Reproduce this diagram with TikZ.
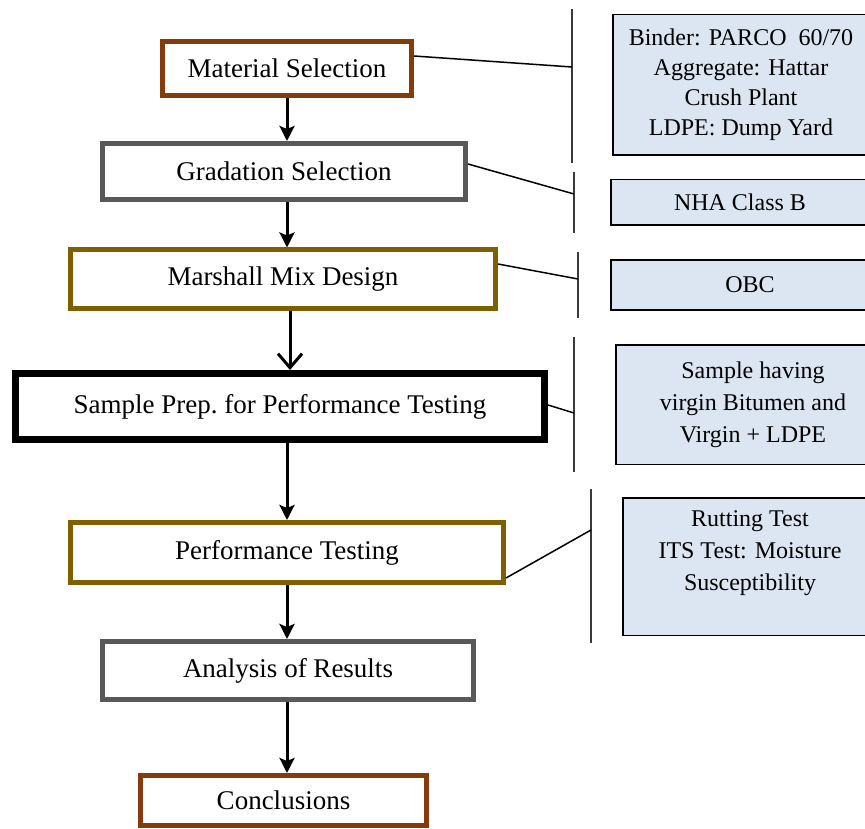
\documentclass[tikz,border=0pt]{standalone}
\usepackage{fontspec}
\setmainfont{Liberation Serif}
\usetikzlibrary{arrows.meta,calc}
\definecolor{brownB}{HTML}{843C0C}
\definecolor{oliveB}{HTML}{7F6000}
\definecolor{grayB}{HTML}{595959}
\definecolor{blueF}{HTML}{DCE6F2}
\definecolor{barC}{HTML}{3A3A3A}
\begin{document}
\begin{tikzpicture}[x=1pt,y=-1pt,
  stage/.style={draw, rectangle, fill=white, line width=5pt, inner sep=0pt, font=\fontsize{27}{31}\selectfont},
  info/.style={draw=black, fill=blueF, line width=1.5pt, rectangle, inner sep=0pt, align=center, font=\fontsize{24}{31}\selectfont},
  infotext/.style={inner sep=0pt, align=center, font=\fontsize{24}{32}\selectfont},
  flow/.style={line width=3pt, -{Stealth[length=15pt,width=15pt,inset=3pt]}},
  flowopen/.style={line width=3pt, -{Straight Barb[length=14pt,width=24pt]}},
  link/.style={line width=1.5pt},
  bar/.style={line width=2.5pt, draw=barC}]
\useasboundingbox (0,0) rectangle (865,829);
\clip (0,0) rectangle (865,829);

% main stages
\node[stage, draw=brownB, minimum width=249pt, minimum height=54pt] (mat) at (287,68.5) {Material Selection};
\node[stage, draw=grayB, minimum width=363pt, minimum height=56pt] (grad) at (284,171.5) {Gradation Selection};
\node[stage, draw=oliveB, minimum width=425pt, minimum height=58pt] (mar) at (283,279) {Marshall Mix Design};
\node[stage, draw=black, line width=7pt, minimum width=529pt, minimum height=66pt] (sam) at (280,406.5) {Sample Prep.\ for Performance Testing};
\node[stage, draw=oliveB, minimum width=433pt, minimum height=60pt] (perf) at (287,552.5) {Performance Testing};
\node[stage, draw=grayB, minimum width=371pt, minimum height=58pt] (ana) at (288,670.5) {Analysis of Results};
\node[stage, draw=brownB, minimum width=286pt, minimum height=50pt] (con) at (283.5,800.5) {Conclusions};

% arrows
\draw[flow] (mat.south) -- (mat.south |- grad.north);
\draw[flow] (grad.south -| mat.south) -- (mat.south |- mar.north);
\draw[flowopen] (mar.south -| 290,0) -- (290,0 |- sam.north);
\draw[flow] (sam.south -| mat.south) -- (mat.south |- perf.north);
\draw[flow] (perf.south -| mat.south) -- (mat.south |- ana.north);
\draw[flow] (ana.south -| mat.south) -- (mat.south |- con.north);

% right info boxes
\node[info, minimum width=256.5pt, minimum height=140.5pt, font=\fontsize{24}{30}\selectfont] (r1) at (741,85)
  {Binder: PARCO~ 60/70\\Aggregate: Hattar\\Crush Plant\\LDPE: Dump Yard};
\node[info, minimum width=258.5pt, minimum height=45.5pt] (r2) at (740,202.5) {NHA Class B};
\node[info, minimum width=278.5pt, minimum height=49.5pt] (r3) at (750,285) {OBC};
\node[info, minimum width=274.5pt, minimum height=119.5pt, font=\fontsize{24}{32}\selectfont] (r4) at (753,404.5)
  {Sample having\\virgin Bitumen and\\Virgin + LDPE};
\node[info, minimum width=254.5pt, minimum height=137.5pt] (r5) at (750,566.5) {};
\node[infotext] (r5t) at (750,553) {Rutting Test\\ITS Test: Moisture\\Susceptibility};

% brackets
\coordinate (b1t) at (572,9);   \coordinate (b1b) at (572,163); \coordinate (b1m) at (572,67);
\coordinate (b2t) at (574,172); \coordinate (b2b) at (574,233); \coordinate (b2m) at (574,194);
\coordinate (b3t) at (578,252); \coordinate (b3b) at (578,318); \coordinate (b3m) at (578,279);
\coordinate (b4t) at (574,337); \coordinate (b4b) at (574,472); \coordinate (b4m) at (574,413);
\coordinate (b5t) at (591,489); \coordinate (b5b) at (591,643); \coordinate (b5m) at (591,530);
\draw[bar] (b1t) -- (b1b);
\draw[bar] (b2t) -- (b2b);
\draw[bar] (b3t) -- (b3b);
\draw[bar] (b4t) -- (b4b);
\draw[bar] (b5t) -- (b5b);

% connectors
\draw[link] ($(mat.east)+(0,-12.5)$) -- (b1m);
\draw[link] ($(grad.east)+(0,-7.5)$) -- (b2m);
\draw[link] ($(mar.east)+(0,-15)$) -- (b3m);
\draw[link] ($(sam.east)+(0,-1.5)$) -- (b4m);
\draw[link] ($(perf.east)+(0,25.5)$) -- (b5m);
\end{tikzpicture}
\end{document}
